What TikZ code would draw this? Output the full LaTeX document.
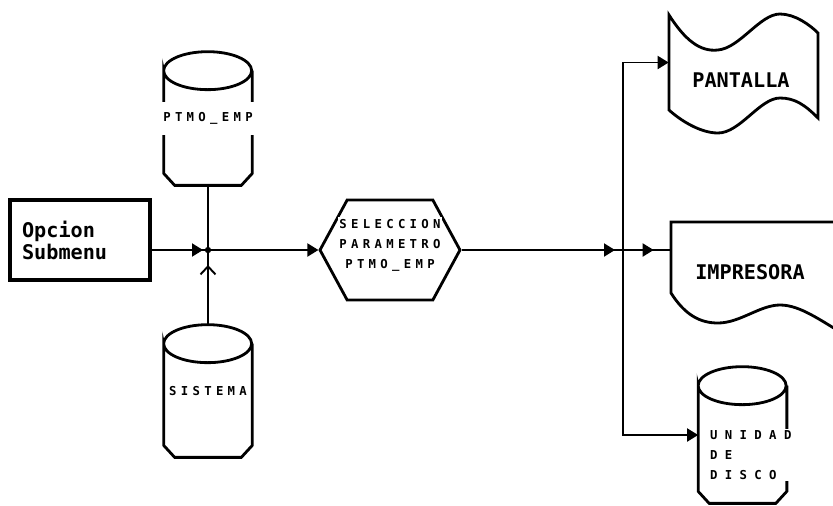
\documentclass[tikz,border=0pt]{standalone}
\usepackage{fontspec}
\usetikzlibrary{shapes.geometric,shapes.symbols,arrows.meta,decorations.markings}
\newfontfamily\plotfont{DejaVu Sans Mono}[LetterSpace=35]
\newfontfamily\plotwide{DejaVu Sans Mono}[LetterSpace=60]
\newfontfamily\plotbig{DejaVu Sans Mono}

% cylinder outline drawn round a named box
\newcommand{\drawdisk}[1]{%
  \draw[doc] ([yshift=-0.38cm]#1.north west)
    arc[start angle=180, end angle=0, x radius=0.88cm, y radius=0.38cm]
    arc[start angle=0, end angle=-180, x radius=0.88cm, y radius=0.38cm]
    -- ([yshift=0.24cm]#1.south west) -- ([xshift=0.22cm]#1.south west)
    -- ([xshift=-0.22cm]#1.south east) -- ([yshift=0.24cm]#1.south east)
    -- ([yshift=-0.38cm]#1.north east);}

\begin{document}
\begin{tikzpicture}[
    x=0.02cm, y=-0.02cm,
    every node/.style={font=\plotfont\bfseries\fontsize{7pt}{11.4pt}\selectfont},
    menubox/.style={rectangle, draw, line width=2.3pt, text width=2.32cm, inner xsep=0.24cm, minimum height=1.6cm, align=left, font=\plotbig\bfseries\fontsize{11.5pt}{12.5pt}\selectfont},
    diskbox/.style={rectangle, inner sep=0pt, minimum width=1.76cm, minimum height=2.66cm},
    disktext/.style={fill=white, inner xsep=1pt, inner ysep=0.2cm, align=left},
    proc/.style={signal, signal to=west and east, signal pointer angle=123, draw, line width=1.6pt, minimum width=2.8cm, minimum height=2cm, inner sep=0pt},
    outlet/.style={inner sep=0pt},
    doc/.style={line width=1.6pt},
    bigtext/.style={font=\plotbig\bfseries\fontsize{11.5pt}{12.5pt}\selectfont},
    line/.style={line width=1.1pt},
    tip/.style={-{Triangle[length=2.2mm, width=2.6mm]}},
    midtip/.style={postaction={decorate}, decoration={markings, mark=at position #1 with {\arrow{Triangle[length=2.2mm, width=2.6mm]}}}},
    backtip/.style={postaction={decorate}, decoration={markings, mark=at position #1 with {\arrow{Straight Barb[length=1.6mm, width=3mm, line width=1.1pt]}}}},
]
\useasboundingbox (0,0) rectangle (833,505);
\clip (0,0) rectangle (833,505);

% input side
\node[menubox] (opcion) at (80,240) {Opcion\\Submenu};
\coordinate (j1) at (208,250);
\node[diskbox] (ptmo) at (208,118.5) {};
\drawdisk{ptmo}
\node[disktext] at (ptmo) {PTMO\_EMP};
\node[diskbox, minimum height=2.64cm] (sistema) at (208,391) {};
\drawdisk{sistema}
\node[disktext] at (sistema) {SISTEMA};

% process
\node[proc] (sel) at (390,250) {};
\node[fill=white, inner sep=1pt, align=center] at ([yshift=0.1cm]sel.center) {SELECCION\\PARAMETRO\\PTMO\_EMP};

% outputs
\coordinate (j2) at (623,250);
\node[outlet, minimum width=2.98cm, minimum height=1.9cm] (pant) at (743.5,62.5) {};
\draw[doc] (669,15) .. controls (685,40) and (700,52) .. (718,50)
    .. controls (740,48) and (760,14) .. (780,14)
    .. controls (795,14) and (810,25) .. (818,33) -- (818,118)
    .. controls (805,105) and (795,98) .. (780,98)
    .. controls (760,98) and (740,133) .. (718,133)
    .. controls (700,133) and (680,120) .. (669,110) -- cycle;
\node[bigtext] at (741,80) {PANTALLA};
\node[outlet, minimum width=3.56cm, minimum height=1.42cm] (impr) at (760,257.5) {};
\draw[doc] (850,222) -- (671,222) -- (671,293)
    .. controls (685,315) and (700,323) .. (718,323)
    .. controls (740,323) and (760,305) .. (780,305)
    .. controls (800,305) and (820,320) .. (850,338);
\node[bigtext] at (750,272) {IMPRESORA};
\node[diskbox, minimum height=2.72cm] (disco) at (742.5,435) {};
\drawdisk{disco}
\node[fill=white, inner sep=1pt, align=left, anchor=west, font=\plotwide\bfseries\fontsize{7pt}{11.4pt}\selectfont] at (708,455) {UNIDAD\\DE\\DISCO};

% connectors
\draw[line, midtip=-0.1cm] (opcion.east |- j1) -- (j1);
\draw[line] (ptmo.south) -- (j1);
\draw[line, backtip=-0.3cm] (sistema.north) -- (j1);
\fill (j1) circle[radius=1.8pt];
\draw[line, tip] (j1) -- (sel.west);
\draw[line, midtip=-0.16cm] (sel.east) -- (j2);
\draw[line, midtip=-0.34cm] (j2) -- (j2 -| impr.west);
\draw[line, tip] (j2) |- (pant.west);
\draw[line, tip] (j2) |- (disco.west);
\end{tikzpicture}
\end{document}
